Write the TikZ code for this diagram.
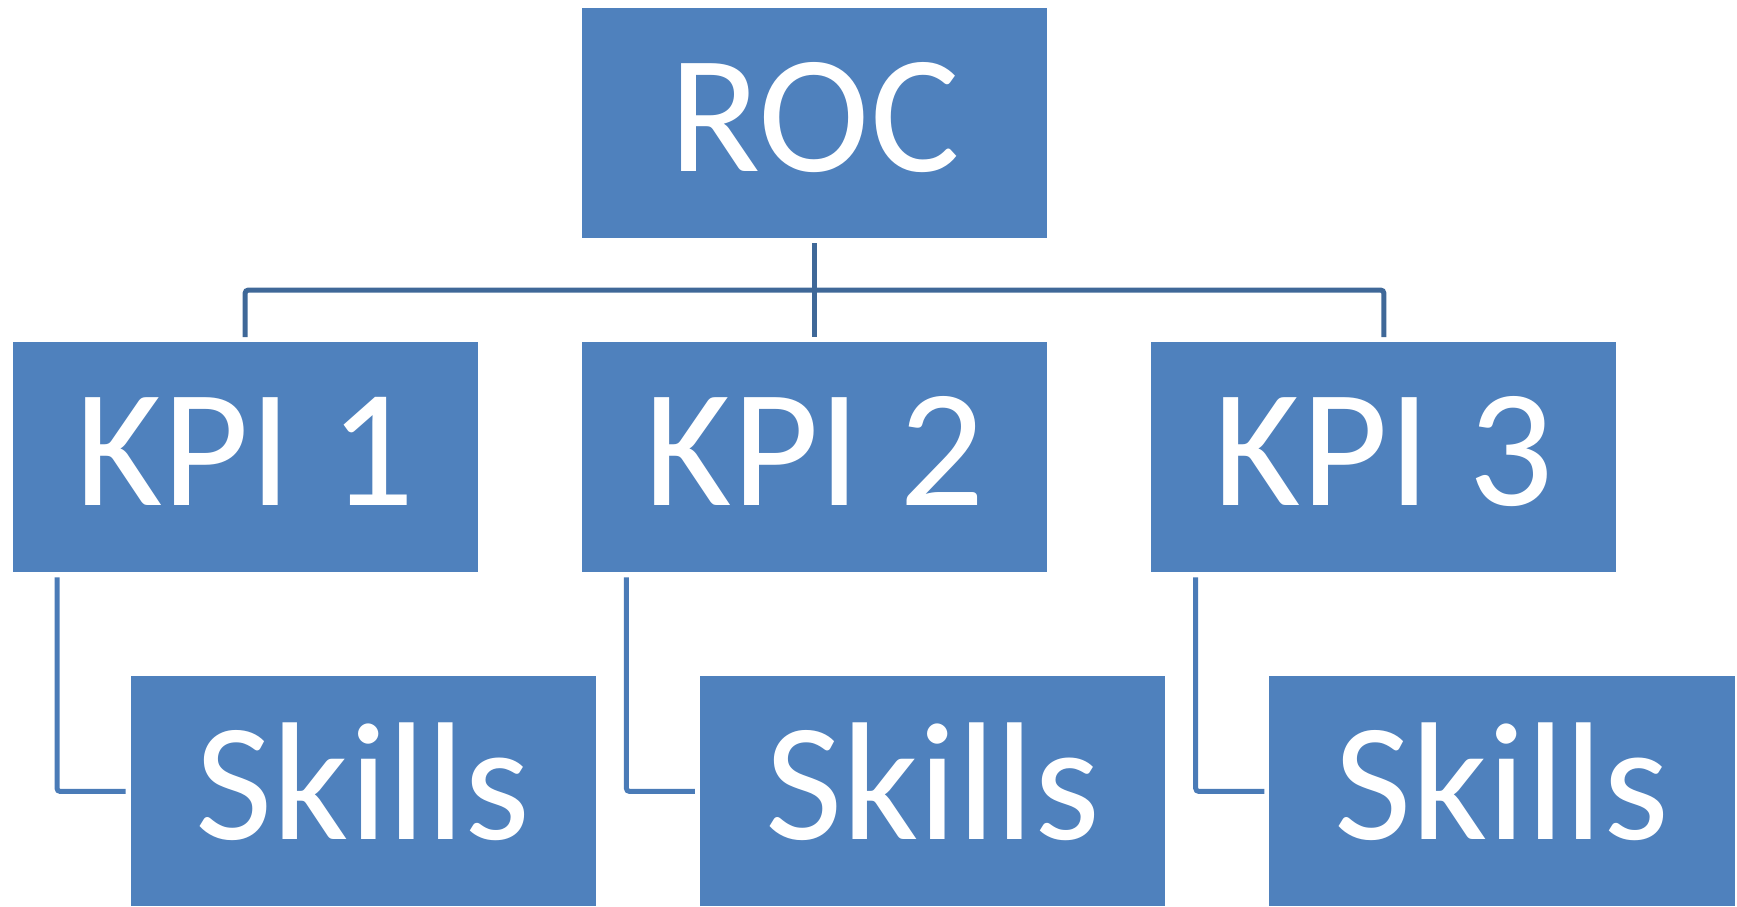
\documentclass[tikz,border=0pt]{standalone}
\usepackage{fontspec}
\setmainfont{Carlito}
\usetikzlibrary{positioning}
\definecolor{boxblue}{HTML}{4F81BD}
\definecolor{busblue}{HTML}{3F6898}
\definecolor{linkblue}{HTML}{4A7BB7}

\begin{document}
\begin{tikzpicture}[
  x=0.01cm, y=-0.01cm,
  box/.style={fill=boxblue,text=white,minimum width=4.65cm,minimum height=2.3cm,
    inner sep=0pt,outer sep=0pt,text height=1.1cm,text depth=0.14cm,
    font=\fontsize{47.8}{57}\selectfont},
  bus/.style={busblue,line width=0.05cm,rounded corners=0.03cm},
  link/.style={linkblue,line width=0.05cm,rounded corners=0.03cm},
  node distance=1.04cm and 1.04cm
]
  \useasboundingbox (0,0) rectangle (1737,906);

  \node[box] (roc) at (814.5,123) {ROC};
  \node[box,below=of roc] (kpi2) {KPI 2};
  \node[box,left=of kpi2] (kpi1) {KPI 1};
  \node[box,right=of kpi2] (kpi3) {KPI 3};
  \node[box,below=of kpi1,xshift=1.18cm] (skills1) {Skills};
  \node[box,below=of kpi2,xshift=1.18cm] (skills2) {Skills};
  \node[box,below=of kpi3,xshift=1.18cm] (skills3) {Skills};

  \coordinate[below=0.52cm of roc.south] (hub);
  \draw[bus] ([yshift=-0.05cm]roc.south) -- ([yshift=0.05cm]kpi2.north);
  \draw[bus] ([yshift=0.05cm]kpi1.north) |- (hub) -| ([yshift=0.05cm]kpi3.north);

  \foreach \k in {1,2,3}
    \draw[link] ([xshift=0.445cm,yshift=-0.05cm]kpi\k.south west) |- ([xshift=-0.05cm]skills\k.west);
\end{tikzpicture}
\end{document}
